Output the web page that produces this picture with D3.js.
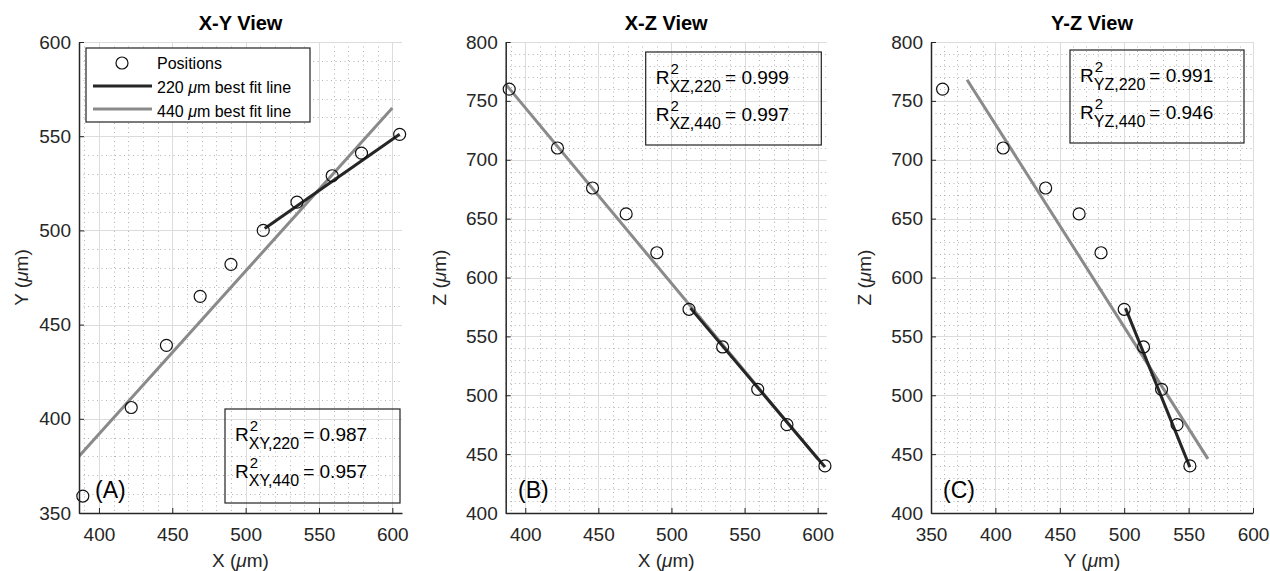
<!DOCTYPE html>
<html>
<head>
<meta charset="utf-8">
<script src="https://cdn.jsdelivr.net/npm/d3@7"></script>
<style>
body { margin: 0; background: #fff; }
svg text { font-family: "Liberation Sans", Arial, sans-serif; fill: #262626; }
</style>
</head>
<body>
<svg id="chart" width="1270" height="571"></svg>
<script>
// positions (um)
var posX = [389, 422, 446, 469, 490, 512, 535, 559, 579, 605];
var posY = [359, 406, 439, 465, 482, 500, 515, 529, 541, 551];
var posZ = [760, 710, 676, 654, 621, 573, 541, 505, 475, 440];

// best fit line end points
var fit220X = [513, 605];
var fit220Y = [501, 551];
var fit220Z = [574, 439];
var fit440X = [384, 600];
var fit440Y = [378, 565];
var fit440Z = [768, 446];

var r2XY = ["0.987", "0.957"];
var r2XZ = ["0.999", "0.997"];
var r2YZ = ["0.991", "0.946"];

var ticksXY = [400, 450, 500, 550, 600];
var ticksYvert = [350, 400, 450, 500, 550, 600];
var ticksZ = [400, 450, 500, 550, 600, 650, 700, 750, 800];
var ticksYhoriz = [350, 400, 450, 500, 550, 600];

var svg = d3.select("#chart");
var top_ = 42, bottom = 513;
var darkLine = "#262626", grayLine = "#8a8a8a";
var fs = 19;

var panels = [
  { key: "A", title: "X-Y View", left: 79, right: 402, hv: posX, vv: posY,
    f220h: fit220X, f220v: fit220Y, f440h: fit440X, f440v: fit440Y,
    xDom: [386.4, 606.6], yDom: [350, 600], xTicks: ticksXY, yTicks: ticksYvert,
    xLab: "X", yLab: "Y", yLabX: 22, tag: "(A)", tagX: 95,
    box: [225, 409, 175, 94], sub: "XY", r2: r2XY, legend: true },
  { key: "B", title: "X-Z View", left: 505.7, right: 826.7, hv: posX, vv: posZ,
    f220h: fit220X, f220v: fit220Z, f440h: fit440X, f440v: fit440Z,
    xDom: [386.6, 606.2], yDom: [400, 800], xTicks: ticksXY, yTicks: ticksZ,
    xLab: "X", yLab: "Z", yLabX: 440, tag: "(B)", tagX: 518,
    box: [645.7, 52, 175.6, 93], sub: "XZ", r2: r2XZ },
  { key: "C", title: "Y-Z View", left: 931, right: 1253, hv: posY, vv: posZ,
    f220h: fit220Y, f220v: fit220Z, f440h: fit440Y, f440v: fit440Z,
    xDom: [350, 600], yDom: [400, 800], xTicks: ticksYhoriz, yTicks: ticksZ,
    xLab: "Y", yLab: "Z", yLabX: 865, tag: "(C)", tagX: 943,
    box: [1070, 50, 174, 93], sub: "YZ", r2: r2YZ }
];

function umLabel(sel, letter) {
  sel.append("tspan").text(letter + " (");
  sel.append("tspan").attr("font-style", "italic").text("\u03bc");
  sel.append("tspan").text("m)");
}

function textWidth(str, size) {
  var t = svg.append("text").attr("font-size", size).text(str);
  var w = t.node().getComputedTextLength();
  t.remove();
  return w;
}

panels.forEach(function(p) {
  var x = d3.scaleLinear().domain(p.xDom).range([p.left, p.right]);
  var y = d3.scaleLinear().domain(p.yDom).range([bottom, top_]);
  var g = svg.append("g");

  g.append("clipPath").attr("id", "clip" + p.key)
    .append("rect").attr("x", p.left).attr("y", top_)
    .attr("width", p.right - p.left).attr("height", bottom - top_);

  // minor grid (every 10)
  var xMinor = d3.range(Math.ceil(p.xDom[0] / 10) * 10, p.xDom[1], 10).filter(function(v) { return v % 50 !== 0; });
  var yMinor = d3.range(Math.ceil(p.yDom[0] / 10) * 10, p.yDom[1], 10).filter(function(v) { return v % 50 !== 0; });
  var minor = g.append("g").attr("stroke", "#b4b4b4").attr("stroke-width", 1).attr("stroke-dasharray", "1,3.5");
  minor.selectAll(".mx").data(xMinor).enter().append("line")
    .attr("x1", function(d) { return Math.round(x(d)) + 0.5; })
    .attr("x2", function(d) { return Math.round(x(d)) + 0.5; })
    .attr("y1", top_).attr("y2", bottom);
  minor.selectAll(".my").data(yMinor).enter().append("line")
    .attr("y1", function(d) { return Math.round(y(d)) + 0.5; })
    .attr("y2", function(d) { return Math.round(y(d)) + 0.5; })
    .attr("x1", p.left).attr("x2", p.right);

  // major grid
  var major = g.append("g").attr("stroke", "#dcdcdc").attr("stroke-width", 1);
  major.selectAll(".gx").data(p.xTicks).enter().append("line")
    .attr("x1", function(d) { return Math.round(x(d)) + 0.5; })
    .attr("x2", function(d) { return Math.round(x(d)) + 0.5; })
    .attr("y1", top_).attr("y2", bottom);
  major.selectAll(".gy").data(p.yTicks).enter().append("line")
    .attr("y1", function(d) { return Math.round(y(d)) + 0.5; })
    .attr("y2", function(d) { return Math.round(y(d)) + 0.5; })
    .attr("x1", p.left).attr("x2", p.right);

  // fit lines + positions
  var plot = g.append("g").attr("clip-path", "url(#clip" + p.key + ")");
  var line = d3.line().x(function(d) { return x(d[0]); }).y(function(d) { return y(d[1]); });
  plot.append("path").datum(d3.zip(p.f440h, p.f440v)).attr("d", line)
    .attr("fill", "none").attr("stroke", grayLine).attr("stroke-width", 3);
  plot.append("path").datum(d3.zip(p.f220h, p.f220v)).attr("d", line)
    .attr("fill", "none").attr("stroke", darkLine).attr("stroke-width", 3);
  g.append("g").selectAll("circle").data(d3.zip(p.hv, p.vv)).enter().append("circle")
    .attr("cx", function(d) { return x(d[0]); })
    .attr("cy", function(d) { return y(d[1]); })
    .attr("r", 6).attr("fill", "none").attr("stroke", "#111").attr("stroke-width", 1.2);

  // axes
  var ax = g.append("g").attr("transform", "translate(0," + bottom + ")")
    .call(d3.axisBottom(x).tickValues(p.xTicks).tickSizeInner(-5).tickSizeOuter(0).tickPadding(15));
  var ay = g.append("g").attr("transform", "translate(" + p.left + ",0)")
    .call(d3.axisLeft(y).tickValues(p.yTicks).tickSizeInner(-5).tickSizeOuter(0).tickPadding(8));
  [ax, ay].forEach(function(a) {
    a.select(".domain").attr("stroke", darkLine).attr("stroke-width", 1.5);
    a.selectAll(".tick line").attr("stroke", darkLine);
    a.selectAll(".tick text").attr("font-size", fs).attr("fill", "#262626")
      .attr("font-family", "'Liberation Sans', Arial, sans-serif");
  });

  // title and labels
  g.append("text").attr("x", (p.left + p.right) / 2).attr("y", 30)
    .attr("text-anchor", "middle").attr("font-size", 20).attr("font-weight", "bold")
    .style("fill", "#000").text(p.title);
  g.append("text").attr("x", (p.left + p.right) / 2).attr("y", 567)
    .attr("text-anchor", "middle").attr("font-size", fs).call(umLabel, p.xLab);
  g.append("text").attr("transform", "translate(" + (p.yLabX + 6) + "," + ((top_ + bottom) / 2) + ") rotate(-90)")
    .attr("text-anchor", "middle").attr("font-size", fs).call(umLabel, p.yLab);
  g.append("text").attr("x", p.tagX).attr("y", 498).attr("font-size", 23).style("fill", "#000").text(p.tag);

  // R^2 box
  var b = p.box;
  g.append("rect").attr("x", b[0]).attr("y", b[1]).attr("width", b[2]).attr("height", b[3])
    .attr("fill", "none").attr("stroke", "#222").attr("stroke-width", 1.2);
  var rw = textWidth("R", fs);
  p.r2.forEach(function(val, i) {
    var bx = b[0] + 10, by = b[1] + 32 + i * 37;
    var subTxt = p.sub + "," + (i === 0 ? "220" : "440");
    var sw = textWidth(subTxt, 16);
    var t = g.append("text").attr("x", bx).attr("y", by).attr("font-size", fs).style("fill", "#000");
    t.append("tspan").text("R");
    t.append("tspan").attr("x", bx + rw + 1).attr("dy", -10).attr("font-size", 15).text("2");
    t.append("tspan").attr("x", bx + rw).attr("dy", 18).attr("font-size", 16).text(subTxt);
    t.append("tspan").attr("x", bx + rw + sw + 4).attr("dy", -8).text("= " + val);
  });

  if (p.legend) {
    var lg = g.append("g");
    lg.append("rect").attr("x", 86).attr("y", 48).attr("width", 224).attr("height", 74)
      .attr("fill", "#fff").attr("stroke", "#222").attr("stroke-width", 1.2);
    lg.append("circle").attr("cx", 122).attr("cy", 63).attr("r", 6)
      .attr("fill", "none").attr("stroke", "#111").attr("stroke-width", 1.2);
    lg.append("line").attr("x1", 93).attr("x2", 152).attr("y1", 86).attr("y2", 86)
      .attr("stroke", darkLine).attr("stroke-width", 3);
    lg.append("line").attr("x1", 93).attr("x2", 152).attr("y1", 109).attr("y2", 109)
      .attr("stroke", grayLine).attr("stroke-width", 3);
    var items = [["Positions", null], ["220 ", "m best fit line"], ["440 ", "m best fit line"]];
    items.forEach(function(it, i) {
      var t = lg.append("text").attr("x", 157).attr("y", 69 + i * 24).attr("font-size", 16).style("fill", "#000");
      if (it[1] === null) { t.text(it[0]); return; }
      t.append("tspan").text(it[0]);
      t.append("tspan").attr("font-style", "italic").text("\u03bc");
      t.append("tspan").text(it[1]);
    });
  }
});
</script>
</body>
</html>
